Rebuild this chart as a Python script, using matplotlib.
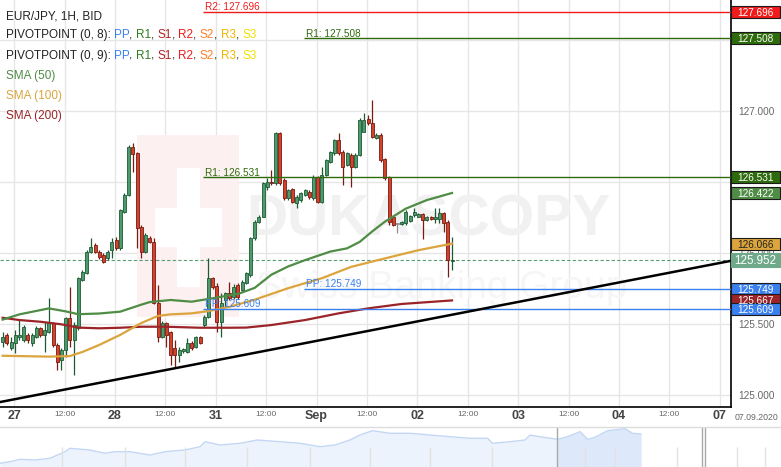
import numpy as np
import matplotlib
matplotlib.use('Agg')
import matplotlib.pyplot as plt
import matplotlib.transforms as mtransforms
from matplotlib.patches import Rectangle

plt.rcParams['font.family'] = ['Liberation Sans', 'DejaVu Sans']
NARROW = ['Liberation Sans Narrow', 'Liberation Sans', 'DejaVu Sans']

# EUR/JPY hourly bid candles, first bar = 26 Aug 21:00 (hours from 27 Aug 00:00)
first_hour = -3
opens = [125.377, 125.424, 125.330, 125.365, 125.407, 125.389, 125.424, 125.365, 125.412, 125.471,
         125.424, 125.447, 125.506, 125.353, 125.248, 125.318, 125.541, 125.389, 125.471, 125.810,
         125.857, 126.009, 126.056, 126.009, 125.986, 125.962, 126.021, 126.091, 126.033, 126.290,
         126.407, 126.747, 126.700, 126.180, 126.009, 126.103, 126.080, 125.646, 125.412, 125.506,
         125.447, 125.330, 125.283, 125.309, 125.307, 125.370, 125.342, 125.412, 125.494, 125.553,
         125.822, 125.771, 125.518, 125.670, 125.716, 125.693, 125.775, 125.740, 125.787, 125.845,
         126.103, 126.220, 126.255, 126.466, 126.501, 126.490, 126.841, 126.513, 126.384, 126.447,
         126.349, 126.372, 126.408, 126.431, 126.384, 126.532, 126.361, 126.548, 126.642, 126.700,
         126.794, 126.712, 126.618, 126.689, 126.607, 126.689, 126.853, 126.939, 126.916, 126.806,
         126.829, 126.658, 126.532, 126.255, 126.202, 126.202, 126.209, 126.227, 126.267, 126.255,
         126.274, 126.232, 126.251, 126.237, 126.237, 126.279, 126.220, 125.945]
highs = [125.447, 125.435, 125.412, 125.459, 125.529, 125.494, 125.440, 125.440, 125.490, 125.480,
         125.517, 125.681, 125.517, 125.365, 125.330, 125.553, 125.763, 125.517, 125.834, 125.880,
         126.020, 126.103, 126.070, 126.020, 126.000, 126.020, 126.103, 126.115, 126.310, 126.420,
         126.760, 126.775, 126.712, 126.197, 126.140, 126.120, 126.103, 125.775, 125.520, 125.517,
         125.450, 125.389, 125.342, 125.330, 125.400, 125.380, 125.420, 125.420, 125.565, 125.962,
         125.830, 125.787, 125.716, 125.728, 125.799, 125.780, 125.790, 125.810, 125.870, 126.110,
         126.230, 126.270, 126.500, 126.525, 126.583, 126.853, 126.853, 126.525, 126.450, 126.460,
         126.410, 126.430, 126.450, 126.440, 126.548, 126.540, 126.607, 126.660, 126.720, 126.800,
         126.841, 126.724, 126.710, 126.700, 126.700, 126.950, 126.982, 126.970, 127.075, 126.840,
         126.840, 126.670, 126.540, 126.270, 126.209, 126.225, 126.300, 126.270, 126.314, 126.280,
         126.280, 126.260, 126.260, 126.314, 126.314, 126.290, 126.230, 126.115]
lows = [125.342, 125.353, 125.318, 125.295, 125.389, 125.377, 125.370, 125.350, 125.400, 125.410,
        125.306, 125.435, 125.342, 125.178, 125.178, 125.271, 125.342, 125.143, 125.459, 125.800,
        125.850, 125.998, 126.000, 125.960, 125.927, 125.950, 125.962, 126.021, 126.020, 126.280,
        126.400, 126.571, 126.033, 125.962, 126.000, 126.070, 125.640, 125.377, 125.400, 125.342,
        125.213, 125.201, 125.236, 125.300, 125.295, 125.320, 125.330, 125.360, 125.482, 125.541,
        125.750, 125.447, 125.412, 125.623, 125.670, 125.680, 125.680, 125.730, 125.780, 125.830,
        126.090, 126.210, 126.250, 126.443, 126.478, 126.478, 126.478, 126.372, 126.370, 126.349,
        126.314, 126.360, 126.400, 126.380, 126.372, 126.350, 126.349, 126.540, 126.630, 126.690,
        126.689, 126.478, 126.610, 126.466, 126.600, 126.680, 126.850, 126.900, 126.806, 126.800,
        126.640, 126.513, 126.197, 126.190, 126.143, 126.195, 126.200, 126.220, 126.255, 126.250,
        126.096, 126.225, 126.230, 126.209, 126.209, 126.150, 125.834, 125.880]
closes = [125.412, 125.365, 125.377, 125.424, 125.424, 125.482, 125.389, 125.424, 125.471, 125.424,
          125.459, 125.506, 125.353, 125.236, 125.318, 125.541, 125.389, 125.494, 125.822, 125.869,
          126.009, 126.044, 126.009, 125.974, 125.939, 126.009, 126.080, 126.033, 126.302, 126.407,
          126.747, 126.696, 126.173, 126.009, 126.126, 126.080, 125.646, 125.412, 125.506, 125.424,
          125.283, 125.283, 125.318, 125.323, 125.370, 125.330, 125.412, 125.365, 125.553, 125.822,
          125.763, 125.518, 125.646, 125.716, 125.681, 125.763, 125.693, 125.799, 125.857, 126.103,
          126.220, 126.255, 126.490, 126.501, 126.490, 126.841, 126.490, 126.384, 126.443, 126.361,
          126.396, 126.419, 126.443, 126.391, 126.536, 126.361, 126.548, 126.654, 126.712, 126.794,
          126.700, 126.607, 126.700, 126.607, 126.689, 126.935, 126.935, 126.911, 126.818, 126.829,
          126.654, 126.525, 126.220, 126.197, 126.202, 126.220, 126.290, 126.260, 126.290, 126.274,
          126.232, 126.255, 126.237, 126.255, 126.279, 126.209, 125.951, 125.952]

# moving averages (bar index -> value)
sma50_idx = [0, 4, 11, 15, 18, 23, 28, 33, 35, 40, 45, 50, 54, 56, 60, 64, 68, 72, 78, 82, 85, 88, 91, 96, 101, 107]
sma50 = [125.532, 125.569, 125.611, 125.590, 125.570, 125.575, 125.588, 125.637, 125.655, 125.670,
         125.658, 125.682, 125.703, 125.712, 125.755, 125.848, 125.906, 125.950, 126.010, 126.033,
         126.078, 126.152, 126.220, 126.312, 126.372, 126.422]
sma100_idx = [0, 11, 16, 19, 23, 28, 33, 37, 40, 45, 49, 54, 60, 68, 76, 83, 91, 99, 107]
sma100 = [125.278, 125.272, 125.276, 125.305, 125.354, 125.425, 125.508, 125.558, 125.569, 125.576,
          125.592, 125.622, 125.672, 125.753, 125.823, 125.903, 125.962, 126.020, 126.066]
sma200_idx = [0, 4, 9, 14, 18, 23, 28, 33, 39, 47, 54, 58, 64, 72, 80, 87, 95, 107]
sma200 = [125.545, 125.529, 125.517, 125.499, 125.476, 125.471, 125.475, 125.482, 125.482, 125.475,
          125.475, 125.476, 125.494, 125.529, 125.576, 125.611, 125.642, 125.667]

# pivot points (start hour of the pivot session)
pivot_names = ['R2', 'R1', 'PP', 'R1', 'PP']
pivot_values = [127.696, 126.531, 125.609, 127.508, 125.749]
pivot_start = [45, 45, 45, 69, 69]

# trend line anchors (hour, price)
trend_hours = [0, 168]
trend_prices = [124.972, 125.930]

day_hours = [0, 24, 48, 72, 96, 120, 144, 168]
day_labels = ['27', '28', '31', 'Sep', '02', '03', '04', '07']
noon_hours = [12, 36, 60, 84, 108, 132, 156]
price_ticks = [125.0, 125.5, 126.0, 126.5, 127.0, 127.5]
price_labels = ['125.000', '125.500', '126.000', '', '127.000', '']

# navigator overview series
nav_x = [0, 10, 20, 35, 50, 65, 70, 90, 105, 115, 130, 150, 165, 185, 200, 205, 220, 240, 257.5, 280,
         300, 320, 335, 350, 360, 372.5, 390, 410, 430, 450, 470, 487.5, 492.5, 510, 525, 530, 540,
         557.5, 567.5, 580, 587.5, 595, 607.5, 625, 632.5, 641]
nav_level = [3.7, 5.3, 7.7, 7.0, 8.7, 15.3, 18.7, 17.0, 13.7, 15.3, 15.3, 12.0, 15.3, 17.0, 20.3, 25.3,
             22.0, 23.7, 27.0, 25.3, 23.7, 20.3, 22.0, 27.0, 32.0, 36.3, 33.7, 33.7, 32.0, 30.3, 28.7,
             28.7, 23.7, 25.3, 27.0, 32.0, 30.3, 27.7, 30.3, 35.3, 27.7, 29.7, 36.3, 38.3, 33.7, 33.0]

C_UP, C_UP_EDGE = '#4e9a6c', '#1d5a34'
C_DN, C_DN_EDGE = '#d2432c', '#7a1a12'
C_SMA50, C_SMA100, C_SMA200 = '#4f8c45', '#dba43c', '#9b2428'
PIV_COL = {'PP': '#3a80ee', 'R1': '#2e6b0c', 'R2': '#f01c1c'}

W, H = 781, 467
fig = plt.figure(figsize=(7.81, 4.67), dpi=100)
fig.patch.set_facecolor('white')
ax = fig.add_axes([0, 60 / H, 731 / W, 407 / H])
ax.set_xlim(-3.38, 170.67)
ax.set_ylim(124.918, 127.778)

# grid
for h in sorted(day_hours + noon_hours):
    ax.axvline(h, color='#e6e6e6', lw=1, zorder=0)
for p in price_ticks:
    ax.axhline(p, color='#e6e6e6', lw=1, zorder=0)

# watermark (logo block + faint lettering), kept behind the price marks
ax.add_patch(Rectangle((137 / W, 1 - 317 / H), 102 / W, 182 / H, transform=fig.transFigure,
                       fc='#fcf0f0', ec='none', zorder=0.5))
ax.add_patch(Rectangle((177 / W, 1 - 287 / H), 23 / W, 119 / H, transform=fig.transFigure,
                       fc='white', ec='none', zorder=0.6))
ax.add_patch(Rectangle((155 / W, 1 - 247 / H), 67 / W, 39 / H, transform=fig.transFigure,
                       fc='white', ec='none', zorder=0.6))
ax.text(428 / W, 1 - 235 / H, 'DUKASCOPY', transform=fig.transFigure, fontsize=41,
        fontweight='bold', family=NARROW, color='#f1f1f1', ha='center', va='baseline', zorder=0.7)
ax.text(442 / W, 1 - 298 / H, 'Swiss Banking Group', transform=fig.transFigure, fontsize=28,
        color='#f6f6f6', ha='center', va='baseline', zorder=0.7)

# candles
o, hi, lo, c = map(np.array, (opens, highs, lows, closes))
t = first_hour + np.arange(len(o)) + 0.25
up = c > o
dn = c < o
flat = c == o
for mask, fc, ec in ((up, C_UP, C_UP_EDGE), (dn, C_DN, C_DN_EDGE), (flat, '#8c8c8c', '#8c8c8c')):
    ax.vlines(t[mask], lo[mask], hi[mask], color=ec, lw=0.9, zorder=3)
    body = np.maximum(np.abs(c[mask] - o[mask]), 0.006)
    ax.bar(t[mask], body, bottom=np.minimum(o[mask], c[mask]), width=0.72,
           color=fc, edgecolor=ec, linewidth=0.6, zorder=4)

# moving averages
ax.plot(t[sma200_idx], sma200, color=C_SMA200, lw=1.6, zorder=5)
ax.plot(t[sma100_idx], sma100, color=C_SMA100, lw=1.6, zorder=5)
ax.plot(t[sma50_idx], sma50, color=C_SMA50, lw=1.6, zorder=5)

# pivots
for name, val, start in zip(pivot_names, pivot_values, pivot_start):
    col = PIV_COL[name]
    ax.hlines(val, start, ax.get_xlim()[1], color=col, lw=1, zorder=6)
    ax.annotate(f'{name}: {val:.3f}', xy=(start, val), xytext=(1.5, 1.2), textcoords='offset points',
                color=col, fontsize=7.2, va='baseline', ha='left', zorder=6)

# trend line and current price
ax.axline((trend_hours[0], trend_prices[0]), (trend_hours[1], trend_prices[1]),
          color='black', lw=1.8, zorder=7)
last = closes[-1]
ax.axhline(last, color='#5b9b74', lw=0.8, dashes=(3, 2), zorder=2)

# axes styling
for s in ('left', 'top'):
    ax.spines[s].set_visible(False)
for s in ('right', 'bottom'):
    ax.spines[s].set_color('black')
    ax.spines[s].set_linewidth(1.2)
ax.yaxis.tick_right()
ax.set_yticks(price_ticks)
ax.set_yticklabels(price_labels)
ax.tick_params(axis='y', length=0, pad=5, labelsize=7.2, labelcolor='#666666')
ax.set_xticks(day_hours)
ax.set_xticklabels(day_labels, fontsize=9, fontweight='bold', color='#444444', family=NARROW)
ax.set_xticks(noon_hours, minor=True)
ax.set_xticklabels(['12:00'] * len(noon_hours), minor=True, fontsize=6, color='#666666')
ax.tick_params(axis='x', which='major', length=0, pad=2.2)
ax.tick_params(axis='x', which='minor', length=0, pad=3.2)
fig.text(735 / W, 1 - 420 / H, '07.09.2020', fontsize=6.3, color='#666666', va='baseline')

# price tags on the right axis
tag_tr = mtransforms.blended_transform_factory(ax.transAxes, ax.transData)
bw = 49 / 731


def price_tag(v, fc, tc='white', ec='#1b1b1b', size=7.2, hpx=12):
    hgt = hpx / 142.3
    ax.add_patch(Rectangle((1.0, v - hgt / 2), bw, hgt, transform=tag_tr, fc=fc, ec=ec, lw=0.8,
                           clip_on=False, zorder=20))
    ax.text(1 + bw / 2, v, f'{v:.3f}', transform=tag_tr, ha='center', va='center_baseline',
            color=tc, fontsize=size, zorder=21, clip_on=False)


price_tag(pivot_values[0], PIV_COL['R2'])
price_tag(pivot_values[3], PIV_COL['R1'])
price_tag(pivot_values[1], PIV_COL['R1'])
price_tag(sma50[-1], C_SMA50)
price_tag(sma100[-1], C_SMA100, tc='#222222')
price_tag(pivot_values[4], PIV_COL['PP'])
price_tag(sma200[-1], C_SMA200)
price_tag(pivot_values[2], PIV_COL['PP'])
price_tag(last, '#6fa98a', ec='#6fa98a', size=8.4, hpx=14)

# legend block (top-left)
r = fig.canvas.get_renderer()
lkw = dict(fontsize=8.5)


def text_w(s):
    tt = fig.text(0, 0, s, **lkw)
    w = tt.get_window_extent(r).width
    tt.remove()
    return w


sp = text_w('a a') - text_w('aa')


def rich(x, y, parts):
    for s, col in parts:
        tt = fig.text(x / W, 1 - y / H, s.strip(), color=col, va='baseline', **lkw)
        x = tt.get_window_extent(r).x1 + (sp if s.endswith(' ') else 0)


piv_parts = [('PP', '#3a80ee'), ('R1', '#2e7d1e'), ('S1', '#b22222'), ('R2', '#f01c1c'),
             ('S2', '#ff7f27'), ('R3', '#f2b600'), ('S3', '#f4e000')]
rich(5.5, 19.7, [('EUR/JPY, 1H, BID', '#222222')])
for yb, per in ((38, '8'), (58.7, '9')):
    parts = [(f'PIVOTPOINT (0, {per}): ', '#222222')]
    for i, (nm, col) in enumerate(piv_parts):
        parts.append((nm, col))
        if i < len(piv_parts) - 1:
            parts.append((', ', '#222222'))
    rich(5.5, yb, parts)
rich(5.5, 79, [('SMA (50)', C_SMA50)])
rich(5.5, 98.7, [('SMA (100)', C_SMA100)])
rich(5.5, 119, [('SMA (200)', C_SMA200)])

# navigator
ax2 = fig.add_axes([0, 0, 1, 40 / H])
ax2.set_xlim(0, W)
ax2.set_ylim(0, 40)
ax2.axis('off')
nx = np.array(nav_x)
nv = np.array(nav_level)
ax2.fill_between(nx, nv, 0, color='#edf3fc', lw=0)
ax2.fill_between(nx, nv, 0, where=nx >= 557.5, color='#dde9fb', lw=0)
ax2.plot(nx, nv, color='#c3d7f5', lw=1)
for xv in (62, 125, 185, 247, 310, 370, 430, 492, 585, 615, 677, 737, 765):
    ax2.vlines(xv, 0, 20, color='#e2e2e2', lw=1)
for xv in (556.5, 702, 704.5):
    ax2.axvline(xv, color='#a8a8a8', lw=1)
ax2.axhline(40, color='#dcdcdc', lw=1, clip_on=False)

fig.savefig('out.png', dpi=100)
